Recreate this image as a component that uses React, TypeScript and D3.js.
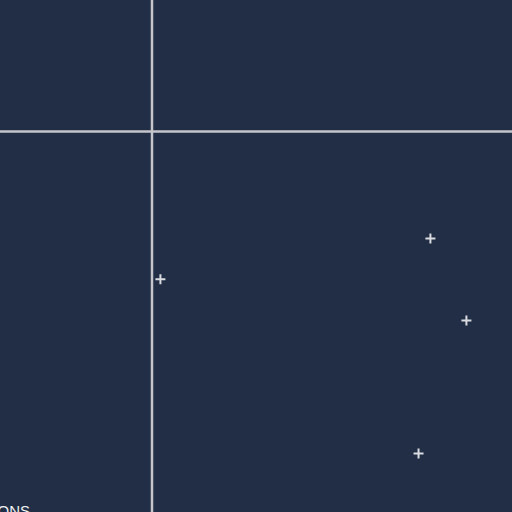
import React, { useRef, useEffect } from "react";
import * as d3 from "d3";

// scatter values (cropped view of a larger chart)
const xValues = [77.2, 2.2, 87.2, 73.9];
const yValues = [-28.1, -38.8, -49.6, -84.5];
const refX = 0;
const refY = 0;
const axisTitle = "OPTIONS";

const width = 512;
const height = 512;

const App: React.FC = () => {
  const svgRef = useRef<SVGSVGElement | null>(null);

  useEffect(() => {
    const svg = d3.select(svgRef.current);
    svg.selectAll("*").remove();

    const xScale = d3.scaleLinear().domain([0, 100]).range([152.5, 512.5]);
    const yScale = d3.scaleLinear().domain([0, -100]).range([131.5, 512.5]);

    svg
      .append("rect")
      .attr("width", width)
      .attr("height", height)
      .attr("fill", "#222e45");

    svg
      .append("line")
      .attr("x1", xScale(refX) - 0.5)
      .attr("x2", xScale(refX) - 0.5)
      .attr("y1", 0)
      .attr("y2", height)
      .attr("stroke", "#c4c6cb")
      .attr("stroke-width", 2.5);

    svg
      .append("line")
      .attr("x1", 0)
      .attr("x2", width)
      .attr("y1", yScale(refY))
      .attr("y2", yScale(refY))
      .attr("stroke", "#c4c6cb")
      .attr("stroke-width", 2.5);

    const points = xValues.map((x, i) => ({ x, y: yValues[i] }));

    svg
      .selectAll(".pt")
      .data(points)
      .enter()
      .append("path")
      .attr("class", "pt")
      .attr("transform", (d) => `translate(${xScale(d.x)},${yScale(d.y)})`)
      .attr("d", "M-5,0H5M0,-5V5")
      .attr("stroke", "#d9dbe0")
      .attr("stroke-width", 2)
      .attr("fill", "none");

    // axis title, cut off by the bottom edge as in the reference
    svg
      .append("text")
      .attr("x", 30)
      .attr("y", 516)
      .attr("text-anchor", "end")
      .attr("fill", "#eef0f3")
      .style("font-family", "Liberation Sans, Arial, sans-serif")
      .style("font-size", "15px")
      .text(axisTitle);
  }, []);

  return (
    <div style={{ position: "fixed", left: 0, top: 0 }}>
      <svg ref={svgRef} width={width} height={height} style={{ display: "block" }} />
    </div>
  );
};

export default App;
